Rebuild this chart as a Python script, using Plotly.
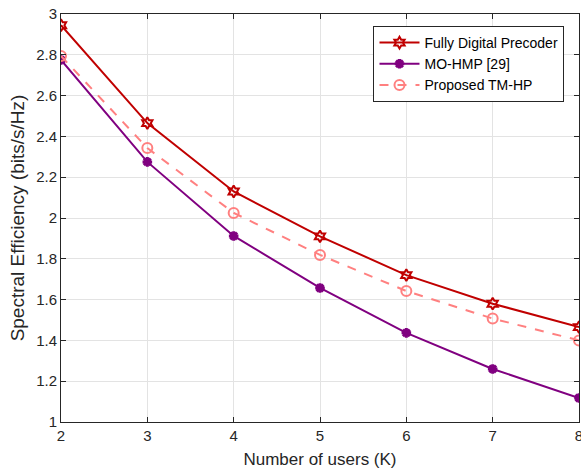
import plotly.graph_objects as go

users = [2, 3, 4, 5, 6, 7, 8]
fully_digital = [2.945, 2.465, 2.13, 1.91, 1.72, 1.58, 1.465]
mo_hmp = [2.775, 2.275, 1.912, 1.657, 1.437, 1.26, 1.118]
proposed = [2.794, 2.343, 2.025, 1.819, 1.642, 1.507, 1.40]

fig = go.Figure()
fig.add_trace(go.Scatter(x=users, y=fully_digital, name="Fully Digital Precoder",
                         mode="lines+markers",
                         line=dict(color="#C00000", width=2),
                         marker=dict(symbol="hexagram-open", size=9, color="#C00000", line=dict(width=2, color="#C00000"))))
fig.add_trace(go.Scatter(x=users, y=mo_hmp, name="MO-HMP [29]",
                         mode="lines+markers",
                         line=dict(color="#800080", width=2),
                         marker=dict(symbol="asterisk-open", size=8, color="#800080", line=dict(width=3, color="#800080"))))
fig.add_trace(go.Scatter(x=users, y=proposed, name="Proposed TM-HP",
                         mode="lines+markers",
                         line=dict(color="#FF8080", width=2, dash="dash"),
                         marker=dict(symbol="circle-open", size=10, color="#FF8080", line=dict(width=2, color="#FF8080"))))

axis_common = dict(showline=True, linecolor="#262626", linewidth=1, mirror="ticks",
                   ticks="inside", ticklen=5, tickcolor="#262626",
                   showgrid=True, gridcolor="#E3E3E3", gridwidth=1, zeroline=False,
                   automargin=False, ticklabeloverflow="allow",
                   tickfont=dict(family="Liberation Sans, Arial", size=15, color="#262626"))

fig.update_xaxes(range=[2, 8], dtick=1, title_text="Number of users (K)", title_standoff=10,
                 title_font=dict(family="Liberation Sans, Arial", size=17, color="#262626"),
                 **axis_common)
fig.update_yaxes(range=[1, 3], title_text="Spectral Efficiency (bits/s/Hz)", title_standoff=6,
                 tickvals=[1, 1.2, 1.4, 1.6, 1.8, 2, 2.2, 2.4, 2.6, 2.8, 3],
                 ticktext=["1", "1.2", "1.4", "1.6", "1.8", "2", "2.2", "2.4", "2.6", "2.8", "3"],
                 title_font=dict(family="Liberation Sans, Arial", size=19, color="#262626"),
                 **axis_common)

fig.update_layout(width=581, height=473,
                  margin=dict(l=61, r=2, t=14, b=51),
                  plot_bgcolor="white", paper_bgcolor="white",
                  font=dict(family="Liberation Sans, Arial", size=14, color="#262626"),
                  legend=dict(x=0.972, y=0.9706, xanchor="right", yanchor="top",
                              bgcolor="white", bordercolor="#262626", borderwidth=1,
                              font=dict(size=14, color="#000000"), tracegroupgap=0,
                              itemwidth=40))

fig.write_html("out.html", config={"displayModeBar": False},
               post_script="document.body.style.margin='0';document.body.style.overflow='hidden';")
